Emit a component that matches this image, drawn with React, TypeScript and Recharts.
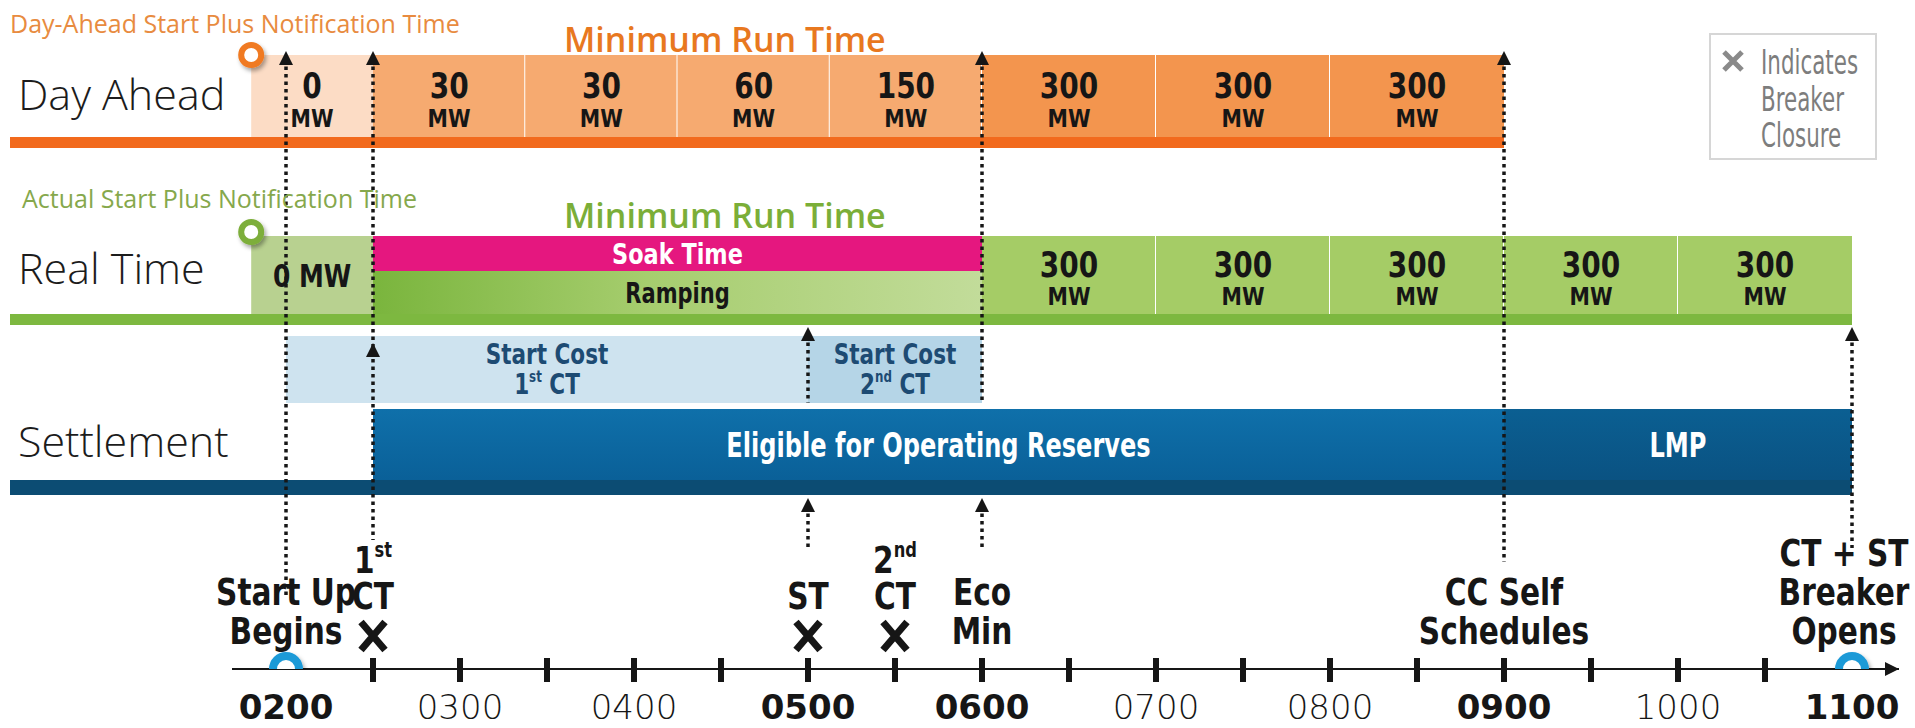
import React from "react";
import {
  ComposedChart,
  XAxis,
  YAxis,
  Scatter,
  ReferenceArea,
  ReferenceLine,
  ReferenceDot,
} from "recharts";

// time axis: half-hour ticks, labelled whole hours
const TICK_HOURS = [2, 2.5, 3, 3.5, 4, 4.5, 5, 5.5, 6, 6.5, 7, 7.5, 8, 8.5, 9, 9.5, 10, 10.5, 11];
const LABEL_HOURS = [2, 3, 4, 5, 6, 7, 8, 9, 10, 11];
const HOUR_LABELS = ["0200", "0300", "0400", "0500", "0600", "0700", "0800", "0900", "1000", "1100"];
const BOLD_HOURS = [2, 5, 6, 9, 11];

// Day Ahead schedule (MW per block)
const DA_FROM = [1.8, 2.5, 3.375, 4.25, 5.125, 6, 7, 8];
const DA_TO = [2.5, 3.375, 4.25, 5.125, 6, 7, 8, 9];
const DA_MW = [0, 30, 30, 60, 150, 300, 300, 300];

// Real Time
const RT_FROM = [1.8, 6, 7, 8, 9, 10];
const RT_TO = [2.5, 7, 8, 9, 10, 11];
const RT_MW = [0, 300, 300, 300, 300, 300];
const SOAK_SPAN = [2.5, 6];
const RAMP_SPAN = [2.5, 6];

// Settlement
const COST_FROM = [2, 5];
const COST_TO = [5, 6];
const COST_UNIT = ["1st CT", "2nd CT"];
const SETTLE_FROM = [2.5, 9];
const SETTLE_TO = [9, 11];
const SETTLE_LABEL = ["Eligible for Operating Reserves", "LMP"];
const LANE_END = [9, 11, 11]; // day ahead, real time, settlement rule lines

// milestones on the time line
const EVENT_TIME = [2, 2.5, 5, 5.5, 6, 9, 11];
const EVENT_TEXT = [
  ["Start Up", "Begins"],
  ["1st", "CT"],
  ["ST"],
  ["2nd", "CT"],
  ["Eco", "Min"],
  ["CC Self", "Schedules"],
  ["CT + ST", "Breaker", "Opens"],
];
const EVENT_BREAKER = [false, true, true, true, false, false, false];
const AXIS_RINGS = [2, 11];
const NOTIFY_START = 1.8;
const GUIDE_TIME = [2, 2.5, 5, 6, 9, 11];

// ---- layout ----
const W = 1915;
const H = 728;
const PX_PER_HOUR = 174;
const PX_AT_0200 = 286;
const X_DOMAIN = [2 - PX_AT_0200 / PX_PER_HOUR, 2 + (W - PX_AT_0200) / PX_PER_HOUR];
const LANE_LEFT = X_DOMAIN[0] + 10 / PX_PER_HOUR;
const AXIS_START = X_DOMAIN[0] + 232 / PX_PER_HOUR;
const AXIS_END = X_DOMAIN[0] + 1899 / PX_PER_HOUR;
const AXIS_Y = 669;
const Y = {
  daTop: 55,
  daBot: 137,
  daLine: 148,
  rtTop: 236,
  soakBot: 271,
  rtBot: 314,
  rtLine: 325,
  costTop: 336,
  costBot: 403,
  setTop: 409,
  setBot: 480,
  setLine: 495,
};
// vertical extent of each dotted guide and where its arrow heads sit
const GUIDE_SPANS = [
  [[51, 598]],
  [[51, 540]],
  [[327, 403], [498, 548]],
  [[51, 403], [498, 548]],
  [[51, 562]],
  [[327, 548]],
];
const GUIDE_ARROWS = [[51], [51, 343], [327, 498], [51, 498], [51], [327]];
const EVENT_NUDGE = [0, 0, 0, 0, 0, 0, -8];

const BOLD = "'DejaVu Sans', sans-serif";
const SANS = "'Open Sans', 'Noto Sans', sans-serif";
const INK = "#161616";

// horizontally squeezed text, standing in for the condensed face of the original
function CText({
  x,
  y,
  sx = 0.85,
  size,
  fill = INK,
  weight = 700,
  anchor = "middle",
  family = BOLD,
  children,
}: any) {
  return (
    <g transform={`translate(${x},${y}) scale(${sx},1)`}>
      <text x={0} y={0} textAnchor={anchor} fontFamily={family} fontWeight={weight} fontSize={size} fill={fill}>
        {children}
      </text>
    </g>
  );
}

function Ordinal({ text, size }: { text: string; size: number }) {
  const m = text.match(/^(\d)(st|nd|rd|th)(.*)$/);
  if (!m) return <>{text}</>;
  return (
    <>
      <tspan>{m[1]}</tspan>
      <tspan fontSize={size * 0.55} dy={-size * 0.42}>
        {m[2]}
      </tspan>
      {m[3] ? <tspan dy={size * 0.42}>{m[3]}</tspan> : null}
    </>
  );
}

const cellShape =
  (fill: string, render: (x: number, y: number, w: number, h: number) => React.ReactNode, divider = true) =>
  (p: any) => (
    <g>
      <rect x={p.x} y={p.y} width={p.width} height={p.height} fill={fill} />
      {divider && (
        <line
          x1={p.x + p.width}
          x2={p.x + p.width}
          y1={p.y}
          y2={p.y + p.height}
          stroke="#fff"
          strokeWidth={2}
        />
      )}
      {render(p.x, p.y, p.width, p.height)}
    </g>
  );

const mwLabel = (mw: number) => (x: number, y: number, w: number, h: number) => (
  <g>
    <CText x={x + w / 2} y={y + h * 0.53} size={35} sx={0.8}>
      {mw}
    </CText>
    <CText x={x + w / 2} y={y + h * 0.88} size={25} sx={0.82}>
      MW
    </CText>
  </g>
);

function HourTick({ x, y, payload }: any) {
  const h = payload.value;
  const idx = LABEL_HOURS.indexOf(h);
  const isEnd = h === TICK_HOURS[0] || h === TICK_HOURS[TICK_HOURS.length - 1];
  const bold = BOLD_HOURS.includes(h);
  return (
    <g>
      {!isEnd && <rect x={x - 3} y={y - 11} width={6} height={24} fill={INK} />}
      {idx >= 0 && (
        <text
          x={x}
          y={y + 50}
          textAnchor="middle"
          fontFamily="'DejaVu Sans', sans-serif"
          fontWeight={bold ? 700 : 200}
          fontSize={34}
          fill={INK}
        >
          {HOUR_LABELS[idx]}
        </text>
      )}
    </g>
  );
}

const ring = (color: string, r: number, sw: number) => (p: any) => (
  <circle cx={p.cx} cy={p.cy} r={r} fill="#fff" stroke={color} strokeWidth={sw} filter="url(#dropShadow)" />
);

const arrowUp = (p: any) => (
  <polygon points={`${p.cx},${p.cy} ${p.cx - 7},${p.cy + 14} ${p.cx + 7},${p.cy + 14}`} fill={INK} />
);

const eventShape = (i: number) => (p: any) => {
  const lines = EVENT_TEXT[i];
  const breaker = EVENT_BREAKER[i];
  const lastBase = breaker ? 609 : 644;
  const step = breaker ? 36 : 39;
  const dy = p.cy - AXIS_Y;
  const cx = p.cx + EVENT_NUDGE[i];
  return (
    <g>
      {lines.map((ln, k) => (
        <CText key={k} x={cx} y={lastBase - (lines.length - 1 - k) * step + dy} size={38} sx={0.78}>
          <Ordinal text={ln} size={38} />
        </CText>
      ))}
      {breaker && (
        <path
          d={`M${p.cx - 12},${622 + dy} L${p.cx + 12},${650 + dy} M${p.cx + 12},${622 + dy} L${p.cx - 12},${650 + dy}`}
          stroke={INK}
          strokeWidth={7}
        />
      )}
    </g>
  );
};

export default function App() {
  const daFill = (mw: number) => (mw === 0 ? "#FCDCC5" : mw < 300 ? "#F6AA70" : "#F3954E");
  const rtFill = (mw: number) => (mw === 0 ? "#B8D190" : "#A5CC66");
  const laneColors = ["#F26A1D", "#7DB840", "#0C4C73"];
  const laneBands = [
    [Y.daBot, Y.daLine],
    [Y.rtBot, Y.rtLine],
    [Y.setBot, Y.setLine],
  ];

  return (
    <div style={{ position: "absolute", left: 0, top: 0, width: W, height: H, background: "#fff", overflow: "hidden" }}>
      <ComposedChart width={W} height={H} margin={{ top: 0, right: 0, bottom: 0, left: 0 }} data={[]}>
        <defs>
          <linearGradient id="rampGrad" x1="0" y1="0" x2="1" y2="0">
            <stop offset="0%" stopColor="#7AB53D" />
            <stop offset="45%" stopColor="#A6CD6E" />
            <stop offset="100%" stopColor="#C2DC9A" />
          </linearGradient>
          <linearGradient id="setGrad" x1="0" y1="0" x2="0" y2="1">
            <stop offset="0%" stopColor="#0F70AA" />
            <stop offset="100%" stopColor="#0A6098" />
          </linearGradient>
          <linearGradient id="lmpGrad" x1="0" y1="0" x2="0" y2="1">
            <stop offset="0%" stopColor="#0B5F92" />
            <stop offset="100%" stopColor="#0A5282" />
          </linearGradient>
          <filter id="dropShadow" x="-50%" y="-50%" width="200%" height="200%">
            <feDropShadow dx="2" dy="3" stdDeviation="2" floodColor="#000" floodOpacity="0.35" />
          </filter>
        </defs>
        <XAxis
          type="number"
          dataKey="h"
          domain={X_DOMAIN}
          allowDataOverflow
          ticks={TICK_HOURS}
          interval={0}
          tick={<HourTick />}
          tickLine={false}
          axisLine={false}
          tickSize={0}
          tickMargin={0}
          height={H - AXIS_Y}
        />
        <YAxis type="number" dataKey="y" domain={[0, AXIS_Y]} reversed hide allowDataOverflow />

        {/* Day Ahead blocks */}
        {DA_MW.map((mw, i) => (
          <ReferenceArea
            key={`da${i}`}
            x1={DA_FROM[i]}
            x2={DA_TO[i]}
            y1={Y.daTop}
            y2={Y.daBot}
            shape={cellShape(daFill(mw), mwLabel(mw), i > 0 && i < DA_MW.length - 1)}
          />
        ))}

        {/* Real Time blocks */}
        {RT_MW.map((mw, i) => (
          <ReferenceArea
            key={`rt${i}`}
            x1={RT_FROM[i]}
            x2={RT_TO[i]}
            y1={Y.rtTop}
            y2={Y.rtBot}
            shape={cellShape(
              rtFill(mw),
              i === 0
                ? (x, y, w, h) => (
                    <CText x={x + w / 2} y={y + h / 2 + 12} size={32} sx={0.78}>
                      {mw} MW
                    </CText>
                  )
                : mwLabel(mw),
              i > 0 && i < RT_MW.length - 1
            )}
          />
        ))}
        <ReferenceArea
          x1={SOAK_SPAN[0]}
          x2={SOAK_SPAN[1]}
          y1={Y.rtTop}
          y2={Y.soakBot}
          shape={cellShape(
            "#E5177F",
            (x, y, w, h) => (
              <CText x={x + w / 2} y={y + h / 2 + 10} size={28} sx={0.8} fill="#fff">
                Soak Time
              </CText>
            ),
            false
          )}
        />
        <ReferenceArea
          x1={RAMP_SPAN[0]}
          x2={RAMP_SPAN[1]}
          y1={Y.soakBot}
          y2={Y.rtBot}
          shape={cellShape(
            "url(#rampGrad)",
            (x, y, w, h) => (
              <CText x={x + w / 2} y={y + h / 2 + 10} size={28} sx={0.75}>
                Ramping
              </CText>
            ),
            false
          )}
        />

        {/* Start cost */}
        {COST_UNIT.map((unit, i) => (
          <ReferenceArea
            key={`cost${i}`}
            x1={COST_FROM[i]}
            x2={COST_TO[i]}
            y1={Y.costTop}
            y2={Y.costBot}
            shape={cellShape(
              i === 0 ? "#CEE3EF" : "#B5D5E7",
              (x, y, w) => (
                <g>
                  <CText x={x + w / 2} y={y + 28} size={28} sx={0.77} fill="#1D4B73">
                    Start Cost
                  </CText>
                  <CText x={x + w / 2} y={y + 58} size={28} sx={0.77} fill="#1D4B73">
                    <Ordinal text={unit} size={28} />
                  </CText>
                </g>
              ),
              false
            )}
          />
        ))}

        {/* Settlement */}
        {SETTLE_LABEL.map((label, i) => (
          <ReferenceArea
            key={`set${i}`}
            x1={SETTLE_FROM[i]}
            x2={SETTLE_TO[i]}
            y1={Y.setTop}
            y2={Y.setBot}
            shape={cellShape(
              i === 0 ? "url(#setGrad)" : "url(#lmpGrad)",
              (x, y, w, h) => (
                <CText x={x + w / 2} y={y + h / 2 + 12} size={33} sx={0.73} fill="#fff">
                  {label}
                </CText>
              ),
              false
            )}
          />
        ))}

        {/* lane rules */}
        {LANE_END.map((end, i) => (
          <ReferenceArea
            key={`lane${i}`}
            x1={LANE_LEFT}
            x2={end}
            y1={laneBands[i][0]}
            y2={laneBands[i][1]}
            fill={laneColors[i]}
            fillOpacity={1}
            stroke="none"
          />
        ))}

        {/* dotted guides */}
        {GUIDE_TIME.map((t, i) =>
          GUIDE_SPANS[i].map((span, k) => (
            <ReferenceLine
              key={`g${i}-${k}`}
              segment={[
                { x: t, y: span[0] + 8 },
                { x: t, y: span[1] },
              ]}
              stroke={INK}
              strokeWidth={3.5}
              strokeDasharray="3.5 4"
              ifOverflow="visible"
            />
          ))
        )}
        {GUIDE_TIME.map((t, i) =>
          GUIDE_ARROWS[i].map((yTip, k) => (
            <ReferenceDot key={`a${i}-${k}`} x={t} y={yTip} shape={arrowUp} ifOverflow="visible" />
          ))
        )}

        {/* time axis */}
        <ReferenceLine
          segment={[
            { x: AXIS_START, y: AXIS_Y },
            { x: AXIS_END, y: AXIS_Y },
          ]}
          stroke={INK}
          strokeWidth={2}
          ifOverflow="visible"
        />
        <ReferenceDot
          x={AXIS_END}
          y={AXIS_Y}
          ifOverflow="visible"
          shape={(p: any) => (
            <polygon points={`${p.cx},${p.cy} ${p.cx - 14},${p.cy - 7} ${p.cx - 14},${p.cy + 7}`} fill={INK} />
          )}
        />
        {EVENT_TIME.map((t, i) => (
          <ReferenceDot key={`ev${i}`} x={t} y={AXIS_Y} shape={eventShape(i)} ifOverflow="visible" />
        ))}
        <ReferenceDot x={NOTIFY_START} y={Y.daTop} shape={ring("#F07A22", 10, 6)} ifOverflow="visible" />
        <ReferenceDot x={NOTIFY_START} y={Y.rtTop - 4} shape={ring("#7DAE3A", 10, 6)} ifOverflow="visible" />
        <Scatter
          data={AXIS_RINGS.map((h) => ({ h, y: AXIS_Y }))}
          shape={ring("#1E9AD7", 13, 8)}
          isAnimationActive={false}
        />
      </ComposedChart>

      <svg width={W} height={H} style={{ position: "absolute", left: 0, top: 0, pointerEvents: "none" }}>
        <text x={10} y={33} fontFamily={SANS} fontSize={25} fill="#E88B40">
          Day-Ahead Start Plus Notification Time
        </text>
        <text x={564} y={52} fontFamily={SANS} fontWeight={600} fontSize={34} fill="#E8781F">
          Minimum Run Time
        </text>
        <text x={22} y={208} fontFamily={SANS} fontSize={25} fill="#86A84C">
          Actual Start Plus Notification Time
        </text>
        <text x={564} y={228} fontFamily={SANS} fontWeight={600} fontSize={34} fill="#7BAE38">
          Minimum Run Time
        </text>
        {[
          ["Day Ahead", 110],
          ["Real Time", 284],
          ["Settlement", 457],
        ].map(([label, y]) => (
          <text key={label} x={18} y={y as number} fontFamily={SANS} fontWeight={300} fontSize={43} fill="#1c1c1c">
            {label}
          </text>
        ))}
        <rect x={1710} y={34} width={166} height={125} fill="#fff" stroke="#d6d6d6" strokeWidth={2} />
        <path d="M1724,52 L1742,70 M1742,52 L1724,70" stroke="#8a8a8a" strokeWidth={5} />
        <CText x={1761} y={74} size={34} sx={0.63} anchor="start" weight={400} fill="#7d7d7d">
          Indicates
        </CText>
        <CText x={1761} y={111} size={34} sx={0.63} anchor="start" weight={400} fill="#7d7d7d">
          Breaker
        </CText>
        <CText x={1761} y={147} size={34} sx={0.63} anchor="start" weight={400} fill="#7d7d7d">
          Closure
        </CText>
      </svg>
    </div>
  );
}
